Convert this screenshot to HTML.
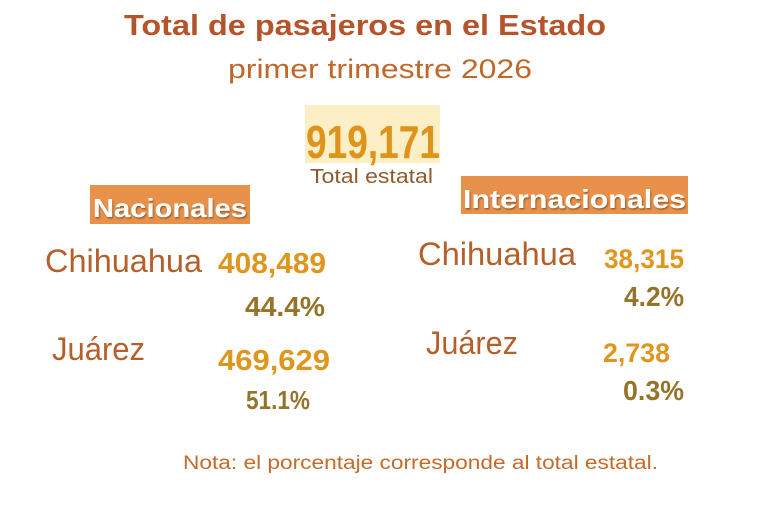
<!DOCTYPE html>
<html><head><meta charset="utf-8"><style>html,body{margin:0;padding:0;background:#fff}svg{display:block}</style></head>
<body>
<svg width="779" height="508" viewBox="0 0 779 508" xmlns="http://www.w3.org/2000/svg" font-family="Liberation Sans, DejaVu Sans, sans-serif">
<defs><filter id="sh" x="-10%" y="-20%" width="130%" height="150%"><feDropShadow dx="1" dy="1.5" stdDeviation="0.8" flood-color="#5a3a20" flood-opacity="0.6"/></filter></defs>
<text x="124" y="35" font-size="29" font-weight="bold" fill="#b5532a" textLength="482" lengthAdjust="spacingAndGlyphs">Total de pasajeros en el Estado</text>
<text x="228" y="78" font-size="27" fill="#c0672a" textLength="304" lengthAdjust="spacingAndGlyphs">primer trimestre 2026</text>
<rect x="305" y="105" width="135" height="58" fill="#fcefc6"/>
<text x="306" y="158" font-size="46" font-weight="bold" fill="#df931a" textLength="134" lengthAdjust="spacingAndGlyphs">919,171</text>
<text x="310" y="183" font-size="20" fill="#8f5a2c" textLength="123" lengthAdjust="spacingAndGlyphs">Total estatal</text>
<rect x="90" y="185" width="160" height="39" fill="#e8914a"/>
<text x="93" y="217" font-size="26" font-weight="bold" fill="#fff" filter="url(#sh)" textLength="154" lengthAdjust="spacingAndGlyphs">Nacionales</text>
<rect x="461" y="176" width="227" height="38" fill="#e8914a"/>
<text x="463" y="208" font-size="26" font-weight="bold" fill="#fff" filter="url(#sh)" textLength="223" lengthAdjust="spacingAndGlyphs">Internacionales</text>
<g fill="#b5602a" font-size="32">
<text x="45" y="272" textLength="157" lengthAdjust="spacingAndGlyphs">Chihuahua</text>
<text x="52" y="360" textLength="93" lengthAdjust="spacingAndGlyphs">Juárez</text>
<text x="418" y="265" textLength="158" lengthAdjust="spacingAndGlyphs">Chihuahua</text>
<text x="426" y="354" textLength="92" lengthAdjust="spacingAndGlyphs">Juárez</text>
</g>
<g fill="#e0961d" font-size="29" font-weight="bold">
<text x="218" y="273" textLength="108" lengthAdjust="spacingAndGlyphs">408,489</text>
<text x="218" y="370" textLength="112" lengthAdjust="spacingAndGlyphs">469,629</text>
<text x="604" y="268" font-size="27" textLength="80" lengthAdjust="spacingAndGlyphs">38,315</text>
<text x="603" y="362" font-size="27" textLength="67" lengthAdjust="spacingAndGlyphs">2,738</text>
</g>
<g fill="#957428" font-size="28" font-weight="bold">
<text x="245" y="316" textLength="80" lengthAdjust="spacingAndGlyphs">44.4%</text>
<text x="246" y="409" font-size="26" textLength="64" lengthAdjust="spacingAndGlyphs">51.1%</text>
<text x="624" y="306" textLength="60" lengthAdjust="spacingAndGlyphs">4.2%</text>
<text x="623" y="400" textLength="61" lengthAdjust="spacingAndGlyphs">0.3%</text>
</g>
<text x="183" y="469" font-size="19" fill="#c46a2c" textLength="475" lengthAdjust="spacingAndGlyphs">Nota: el porcentaje corresponde al total estatal.</text>
</svg>
</body></html>
